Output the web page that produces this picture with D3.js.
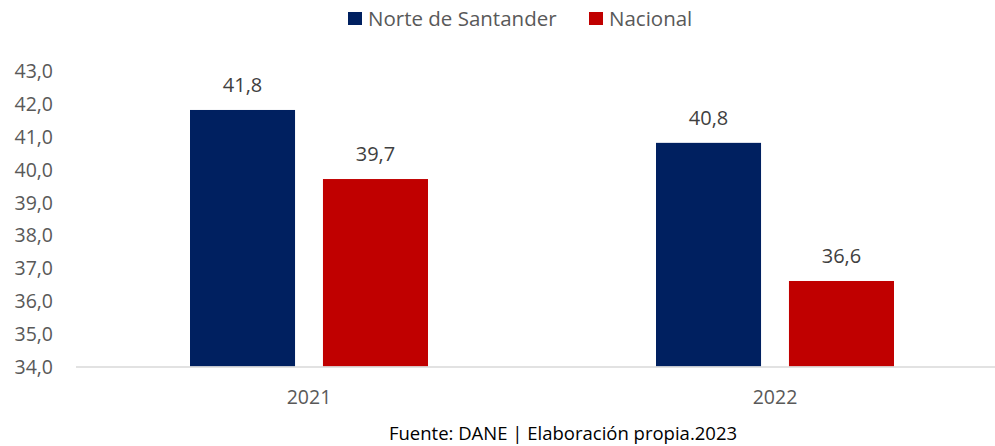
<!DOCTYPE html>
<html>
<head>
<meta charset="utf-8">
<script src="https://cdn.jsdelivr.net/npm/d3@7"></script>
<style>
  body { margin: 0; background: #fff; }
  text { font-family: "Open Sans", Lato, sans-serif; }
</style>
</head>
<body>
<svg id="chart" width="995" height="446"></svg>
<script>
// datos
var years = ["2021", "2022"];
var series = ["Norte de Santander", "Nacional"];
var norteValues = [41.8, 40.8];
var nacionalValues = [39.7, 36.6];
var yTicks = [34, 35, 36, 37, 38, 39, 40, 41, 42, 43];
var fuente = "Fuente: DANE | Elaboración propia.2023";

var colors = ["#002060", "#C00000"];

const svg = d3.select('#chart');
const width = +svg.attr('width');
const height = +svg.attr('height');

const locale = d3.formatLocale({ decimal: ",", thousands: ".", grouping: [3], currency: ["$", ""] });
const fmt = locale.format(".1f");

const rows = years.map((y, i) => ({ year: y, values: [norteValues[i], nacionalValues[i]] }));

const x0 = d3.scaleBand()
    .domain(years)
    .range([76, 1008])
    .paddingInner(0)
    .paddingOuter(0);

const x1 = d3.scaleBand()
    .domain(series)
    .range([114, 352])
    .paddingInner(0.21)
    .paddingOuter(0);

const yScale = d3.scaleLinear()
    .domain([34, 43])
    .range([366.5, 70.5]);

// eje y
const yAxis = d3.axisLeft(yScale)
    .tickValues(yTicks)
    .tickFormat(fmt)
    .tickSize(0)
    .tickPadding(0);

const yAxisG = svg.append('g')
    .attr('transform', 'translate(53,0)')
    .call(yAxis);
yAxisG.select('.domain').remove();
yAxisG.selectAll('text')
    .attr('fill', '#595959')
    .style('font-size', '19.5px')
    .attr('dy', '0.36em');

// barras
const groups = svg.selectAll('.grupo')
    .data(rows)
    .enter().append('g')
    .attr('class', 'grupo')
    .attr('transform', d => `translate(${x0(d.year)},0)`);

groups.selectAll('rect')
    .data(d => d.values.map((v, i) => ({ name: series[i], value: v, i: i })))
    .enter().append('rect')
    .attr('x', d => x1(d.name))
    .attr('width', x1.bandwidth())
    .attr('y', d => yScale(d.value))
    .attr('height', d => yScale(34) - yScale(d.value))
    .attr('fill', d => colors[d.i]);

groups.selectAll('.valor')
    .data(d => d.values.map((v, i) => ({ name: series[i], value: v })))
    .enter().append('text')
    .attr('class', 'valor')
    .attr('x', d => x1(d.name) + x1.bandwidth() / 2)
    .attr('y', d => yScale(d.value) - 18)
    .attr('text-anchor', 'middle')
    .attr('fill', '#404040')
    .style('font-size', '20px')
    .text(d => fmt(d.value));

// eje x
svg.append('line')
    .attr('x1', 76).attr('x2', width)
    .attr('y1', yScale(34) + 0.5).attr('y2', yScale(34) + 0.5)
    .attr('stroke', '#d9d9d9')
    .attr('stroke-width', 1.6);

svg.selectAll('.anio')
    .data(years)
    .enter().append('text')
    .attr('class', 'anio')
    .attr('x', d => x0(d) + x0.bandwidth() / 2)
    .attr('y', 404)
    .attr('text-anchor', 'middle')
    .attr('fill', '#595959')
    .style('font-size', '19.5px')
    .text(d => d);

// leyenda
const legendX = [348, 589];
const legend = svg.selectAll('.leyenda')
    .data(series)
    .enter().append('g')
    .attr('class', 'leyenda')
    .attr('transform', (d, i) => `translate(${legendX[i]},0)`);

legend.append('rect')
    .attr('x', 0).attr('y', 12)
    .attr('width', 14).attr('height', 13)
    .attr('fill', (d, i) => colors[i]);

legend.append('text')
    .attr('x', 20).attr('y', 25.5)
    .attr('fill', '#595959')
    .style('font-size', '20.5px')
    .text(d => d);

// fuente
svg.append('text')
    .attr('x', 563)
    .attr('y', 440)
    .attr('text-anchor', 'middle')
    .attr('fill', '#000')
    .style('font-size', '18.5px')
    .text(fuente);
</script>
</body>
</html>
